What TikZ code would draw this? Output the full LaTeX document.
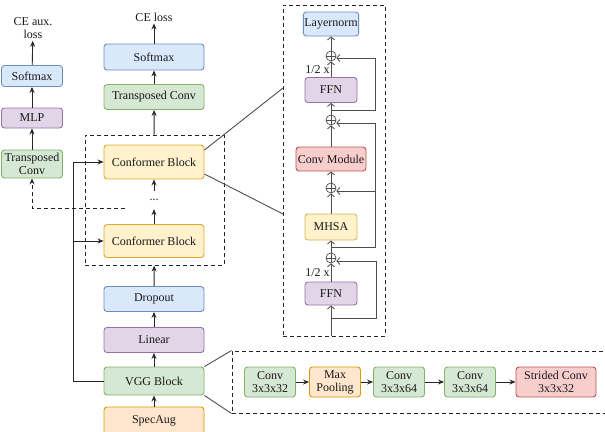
\documentclass[tikz,border=0pt]{standalone}
\usepackage{fontspec}
\setmainfont{Liberation Serif}
\usepackage{tikz}
\usetikzlibrary{arrows.meta,positioning,shapes.geometric}
\definecolor{bluefill}{HTML}{DAE8FC}
\definecolor{blueline}{HTML}{6C8EBF}
\definecolor{greenfill}{HTML}{D5E8D4}
\definecolor{greenline}{HTML}{82B366}
\definecolor{purplefill}{HTML}{E1D5E7}
\definecolor{purpleline}{HTML}{9673A6}
\definecolor{yellowfill}{HTML}{FFF2CC}
\definecolor{yellowline}{HTML}{D6B656}
\definecolor{confline}{HTML}{DFA82A}
\definecolor{orangefill}{HTML}{FFE6CC}
\definecolor{orangeline}{HTML}{D79B00}
\definecolor{redfill}{HTML}{F8CECC}
\definecolor{redline}{HTML}{B85450}
\definecolor{wire}{HTML}{4D4D4D}
\tikzstyle{arrow} = [
    line width=0.9pt,
    -{Stealth[length=6pt,width=5pt]},
    draw=black!85
]
\tikzstyle{resline} = [
    line width=0.8pt,
    -{Straight Barb[length=3pt,width=7pt]},
    draw=wire
]
\tikzstyle{block} = [
    rectangle,
    rounded corners=3pt,
    minimum width=100pt,
    minimum height=25pt,
    align=center,
    inner sep=1pt,
    line width=0.9pt,
    text=black!90,
    font=\fontsize{12}{13}\selectfont
]
\tikzstyle{blueblock} = [block, draw=blueline, fill=bluefill]
\tikzstyle{greenblock} = [block, draw=greenline, fill=greenfill]
\tikzstyle{purpleblock} = [block, draw=purpleline, fill=purplefill]
\tikzstyle{yellowblock} = [block, draw=yellowline, fill=yellowfill]
\tikzstyle{confblock} = [block, draw=confline, fill=yellowfill]
\tikzstyle{orangeblock} = [block, draw=orangeline, fill=orangefill]
\tikzstyle{redblock} = [block, draw=redline, fill=redfill]
\tikzstyle{addnode} = [
    circle,
    draw=wire,
    line width=0.7pt,
    minimum size=10pt,
    inner sep=0pt,
    path picture={\draw[wire, line width=0.6pt]
        (path picture bounding box.north) -- (path picture bounding box.south)
        (path picture bounding box.west) -- (path picture bounding box.east);}
]
\tikzstyle{dashbox} = [
    rectangle,
    draw=black!85,
    line width=1pt,
    dash pattern=on 4pt off 3pt,
    inner sep=0pt
]
\tikzstyle{label} = [inner sep=2pt, align=center, text=black!90, font=\fontsize{12}{13}\selectfont]

\begin{document}
\begin{tikzpicture}[x=1pt, y=-1pt]
        \useasboundingbox (0,0) rectangle (605,431);

        % Main column
        \node[label] (celoss) at (154,17) {CE loss};
        \node[blueblock, minimum height=26pt] (smx) at (154,57) {Softmax};
        \node[greenblock] (tconv) at (154,97) {Transposed Conv};
        \node[dashbox, minimum width=139pt, minimum height=130pt] (confbox) at (154.5,200) {};
        \node[confblock, minimum height=34pt] (cb1) at (154,162) {Conformer Block};
        \node[label, minimum height=18pt, inner sep=0pt] (dots) at (154,200) {...};
        \node[confblock, minimum height=33pt] (cb2) at (154,241) {Conformer Block};
        \node[blueblock] (dropout) at (154,299) {Dropout};
        \node[purpleblock] (linear) at (154,340) {Linear};
        \node[greenblock, minimum height=28pt] (vgg) at (154,381) {VGG Block};
        \node[orangeblock, minimum height=28pt] (specaug) at (154,421) {SpecAug};

        \draw[arrow] (specaug) -- (vgg);
        \draw[arrow] (vgg) -- (linear);
        \draw[arrow] (linear) -- (dropout);
        \draw[arrow] (dropout) -- (confbox);
        \draw[arrow] (cb2) -- (dots);
        \draw[arrow] (dots) -- (cb1);
        \draw[arrow] (confbox) -- (tconv);
        \draw[arrow] (tconv) -- (smx);
        \draw[arrow] (smx) -- (celoss);

        % Skip connection into the blocks
        \coordinate (skip) at (73,381);
        \draw[arrow] (vgg.west) -- (skip) |- (cb1.west);
        \draw[arrow] (skip |- cb2.west) -- (cb2.west);

        % Auxiliary branch
        \node[label] (auxloss) at (33,28) {CE aux.\\loss};
        \node[blueblock, minimum width=61pt, minimum height=21pt] (auxsmx) at (32,76) {Softmax};
        \node[purpleblock, minimum width=61pt, minimum height=20pt] (mlp) at (32,118) {MLP};
        \node[greenblock, minimum width=61pt, minimum height=28pt] (auxtconv) at (32,164) {Transposed\\Conv};
        \coordinate (auxsrc) at (125,208);
        \draw[arrow, dash pattern=on 4pt off 3pt] (auxsrc) -| (auxtconv.south);
        \draw[arrow] (auxtconv) -- (mlp);
        \draw[arrow] (mlp) -- (auxsmx);
        \draw[arrow] (auxsmx) -- (auxloss);

        % Conformer block detail
        \node[dashbox, minimum width=102pt, minimum height=331pt] (detail) at (334,170.5) {};
        \coordinate (zoomtop) at (283,88);
        \coordinate (zoombot) at (283,214);
        \draw[wire, line width=0.9pt] ([yshift=12pt]cb1.east) -- (zoomtop);
        \draw[wire, line width=0.9pt] ([yshift=-12pt]cb1.east) -- (zoombot);

        \node[blueblock, minimum width=52pt, minimum height=24pt] (ln) at (331,24) {Layernorm};
        \node[addnode] (add4) at (331,56) {};
        \node[purpleblock, minimum width=52pt, minimum height=25pt] (ffn2) at (331,90) {FFN};
        \node[addnode] (add3) at (331,120) {};
        \node[redblock, minimum width=70pt, minimum height=24pt] (convmod) at (331,159) {Conv Module};
        \node[addnode] (add2) at (331,188) {};
        \node[yellowblock, minimum width=52pt, minimum height=26pt] (mhsa) at (331,227) {MHSA};
        \node[addnode] (add1) at (331,258) {};
        \node[purpleblock, minimum width=52pt, minimum height=23pt] (ffn1) at (331,293.5) {FFN};
        \coordinate (cin) at (331,336);

        \draw[resline] (cin) -- (ffn1);
        \draw[resline] (ffn1) -- node[label, left, inner sep=1pt] {1/2 x} (add1);
        \draw[resline] (add1) -- (mhsa);
        \draw[resline] (mhsa) -- (add2);
        \draw[resline] (add2) -- (convmod);
        \draw[resline] (convmod) -- (add3);
        \draw[resline] (add3) -- (ffn2);
        \draw[resline] (ffn2) -- node[label, left, inner sep=1pt] {1/2 x} (add4);
        \draw[resline] (add4) -- (ln);

        % Residual paths
        \coordinate (r1) at (331,318);
        \coordinate (r2) at (331,247);
        \coordinate (r3) at (375,191);
        \coordinate (r4) at (331,110);
        \draw[resline] (r1) -- ++(45,0) |- ([yshift=-3pt]add1.east);
        \draw[resline] (r2) -- ++(44,0) |- ([yshift=-3pt]add2.east);
        \draw[resline] (r3) |- ([yshift=-3pt]add3.east);
        \draw[resline] (r4) -- ++(44,0) |- ([yshift=-2pt]add4.east);

        % VGG block detail
        \node[dashbox, minimum width=375pt, minimum height=62pt] (vggbox) at (419.5,382) {};
        \draw[wire, line width=0.9pt] (vgg.north east) -- (vggbox.north west);
        \draw[wire, line width=0.9pt] (vgg.south east) -- (vggbox.south west);

        \node[greenblock, minimum width=51pt, minimum height=30pt] (conva) at (270,382) {Conv\\3x3x32};
        \node[orangeblock, minimum width=51pt, minimum height=30pt] (pool) at (335,382) {Max\\Pooling};
        \node[greenblock, minimum width=51pt, minimum height=30pt] (convb) at (399,382) {Conv\\3x3x64};
        \node[greenblock, minimum width=51pt, minimum height=30pt] (convc) at (470,382) {Conv\\3x3x64};
        \node[redblock, minimum width=80pt, minimum height=30pt] (strided) at (556,382) {Strided Conv\\3x3x32};
        \draw[arrow] (conva) -- (pool);
        \draw[arrow] (pool) -- (convb);
        \draw[arrow] (convb) -- (convc);
        \draw[arrow] (convc) -- (strided);
    \end{tikzpicture}
\end{document}
